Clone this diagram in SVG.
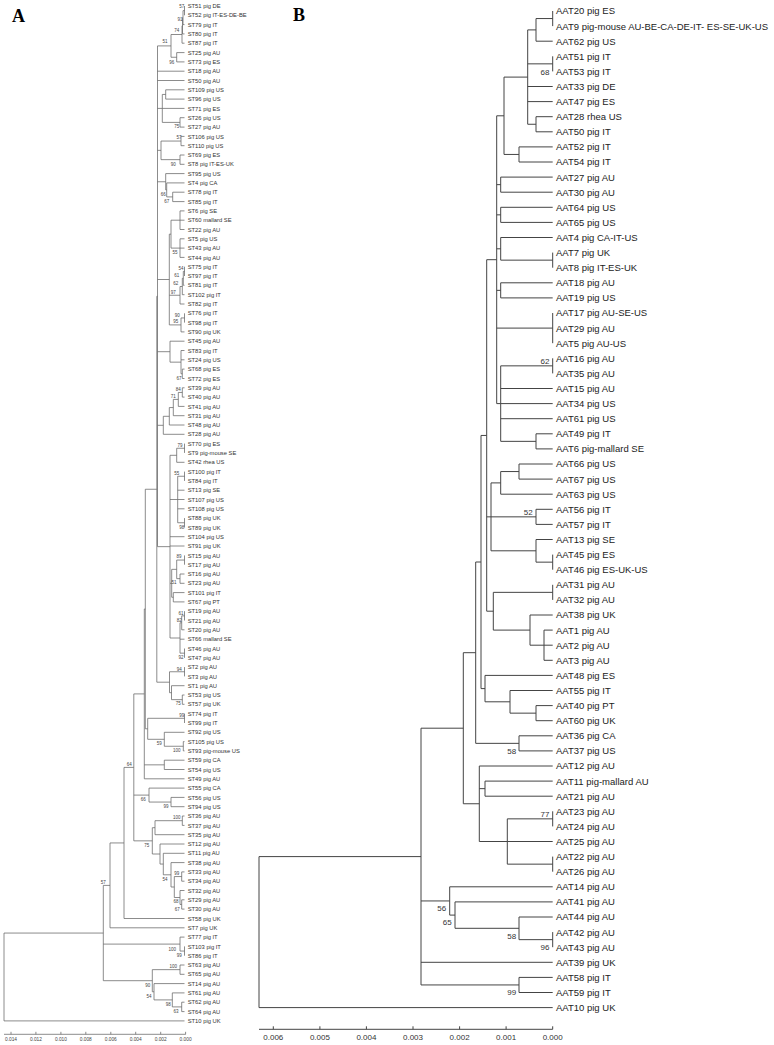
<svg xmlns="http://www.w3.org/2000/svg" width="774" height="1045" viewBox="0 0 774 1045">
<style>
.ea{fill:none;stroke:#666;stroke-width:0.75}
.eb{fill:none;stroke:#444;stroke-width:1}
.ta{font-family:"Liberation Sans",Arial,sans-serif;font-size:5.8px;fill:#333}
.tb{font-family:"Liberation Sans",Arial,sans-serif;font-size:9.5px;fill:#222}
.ba{font-family:"Liberation Sans",Arial,sans-serif;font-size:4.5px;fill:#444;text-anchor:middle}
.bb{font-family:"Liberation Sans",Arial,sans-serif;font-size:8px;fill:#333;text-anchor:middle}
.xa{font-family:"Liberation Sans",Arial,sans-serif;font-size:4.8px;fill:#444;text-anchor:middle}
.xb{font-family:"Liberation Sans",Arial,sans-serif;font-size:8px;fill:#333;text-anchor:middle}
.pl{font-family:"Liberation Serif","Times New Roman",serif;font-size:18px;font-weight:bold;fill:#000}
</style>
<rect width="774" height="1045" fill="#fff"/>
<text class="pl" x="12" y="21.5">A</text>
<text class="pl" x="293" y="20.5">B</text>
<g id="connectors">
<path class="ea" d="M184.5 6V15.3 M183 10.65V24.6H184.5 M183 10.65H184.5 M182.5 17.6V33.9H184.5 M182.5 17.6H183 M182 25.75V43.2H184.5 M182 25.75H182.5 M176.7 52.6V61.9 M176.7 52.6H184.5 M176.7 61.9H184.5 M171 34.5V57.25H176.7 M171 34.5H182 M165.7 89.8V99.1H184.5 M165.7 89.8H184.5 M180 117.7V127.1H184.5 M180 117.7H184.5 M162.3 94.45V122.4H180 M162.3 94.45H165.7 M162.3 108.4H184.5 M181 136.4V145.7H184.5 M181 136.4H184.5 M180 155V164.3H184.5 M180 155H184.5 M161 141.05V159.65H180 M161 141.05H181 M172.7 192.2V201.6H184.5 M172.7 192.2H184.5 M166.7 182.9V196.9H172.7 M166.7 182.9H184.5 M165.7 173.6V189.9H166.7 M165.7 173.6H184.5 M180 210.9V229.5H184.5 M180 210.9H184.5 M180 220.2H184.5 M180 238.8V257.4H184.5 M180 238.8H184.5 M180 248.1H184.5 M171 220.2V248.1H180 M171 220.2H180 M184.5 266.7V276 M183.3 271.35V285.3H184.5 M183.3 271.35H184.5 M182.3 278.3V294.7H184.5 M182.3 278.3H183.3 M180 286.5V304H184.5 M180 286.5H182.3 M184.5 313.3V322.6 M181 317.95V331.9H184.5 M181 317.95H184.5 M169.3 234.15V324.9H181 M169.3 234.15H171 M169.3 295.25H180 M182.3 369.1V378.5H184.5 M182.3 369.1H184.5 M181 350.5V373.8H182.3 M181 350.5H184.5 M181 359.8H184.5 M170 341.2V362.15H181 M170 341.2H184.5 M182.3 387.8V397.1H184.5 M182.3 387.8H184.5 M178.3 392.45V406.4H184.5 M178.3 392.45H182.3 M173.3 399.4V415.7H184.5 M173.3 399.4H178.3 M169.3 407.55V425H184.5 M169.3 407.55H173.3 M163.3 416.3V434.3H184.5 M163.3 416.3H169.3 M184.5 443.6V452.9 M176.7 448.25V462.3H184.5 M176.7 448.25H184.5 M184.5 471.6V480.9 M184.5 518.1V527.4 M177.7 476.25V522.75H184.5 M177.7 476.25H184.5 M177.7 490.2H184.5 M177.7 499.5H184.5 M177.7 508.8H184.5 M184.5 555.4V564.7 M180 574V583.3H184.5 M180 574H184.5 M176.7 560.05V578.65H180 M176.7 560.05H184.5 M173.3 592.6V601.9H184.5 M173.3 592.6H184.5 M171.7 569.35V597.25H173.3 M171.7 569.35H176.7 M184.5 611.2V620.5 M181.7 615.85V629.8H184.5 M181.7 615.85H184.5 M184.5 648.5V657.8 M180 622.8V653.15H184.5 M180 622.8H181.7 M180 639.2H184.5 M170 455.3V638H180 M170 455.3H176.7 M170 499.5H177.7 M170 536.7H184.5 M170 546H184.5 M170 583.3H171.7 M157.5 45.9V546.65H170 M157.5 45.9H171 M157.5 71.2H184.5 M157.5 80.5H184.5 M157.5 108.4H162.3 M157.5 150.35H161 M157.5 181.75H165.7 M157.5 279.5H169.3 M157.5 351.7H170 M157.5 425.3H163.3 M184.5 667.1V676.4 M182.3 695V704.3H184.5 M182.3 695H184.5 M171.5 685.7V699.65H182.3 M171.5 685.7H184.5 M169.5 671.75V692.7H171.5 M169.5 671.75H184.5 M156.8 296.3V682.2H169.5 M156.8 296.3H157.5 M184.5 713.6V723 M183.3 741.6V750.9H184.5 M183.3 741.6H184.5 M164.3 732.3V746.25H183.3 M164.3 732.3H184.5 M147.7 718.3V739.3H164.3 M147.7 718.3H184.5 M145.3 489.25V728.8H147.7 M145.3 489.25H156.8 M164.3 760.2V769.5H184.5 M164.3 760.2H184.5 M144.3 609V778.8H184.5 M144.3 609H145.3 M144.3 764.85H164.3 M171 797.4V806.7H184.5 M171 797.4H184.5 M149 788.1V802.05H171 M149 788.1H184.5 M182.3 816V825.4H184.5 M182.3 816H184.5 M155 820.7V834.7H184.5 M155 820.7H182.3 M181.7 871.9V881.2H184.5 M181.7 871.9H184.5 M181.7 899.8V909.1H184.5 M181.7 899.8H184.5 M180 890.5V904.45H181.7 M180 890.5H184.5 M174.3 876.55V897.5H180 M174.3 876.55H181.7 M171 862.6V887H174.3 M171 862.6H184.5 M163.3 853.3V874.8H171 M163.3 853.3H184.5 M160 844V864.05H163.3 M160 844H184.5 M152.3 827.7V854H160 M152.3 827.7H155 M133.8 693.9V840.85H152.3 M133.8 693.9H144.3 M133.8 795.1H149 M124 767.4V918.5H184.5 M124 767.4H133.8 M110 842.95V927.8H184.5 M110 842.95H124 M184.5 946.4V955.7 M180 937.1V951.05H184.5 M180 937.1H184.5 M180 965V974.3H184.5 M180 965H184.5 M181.7 1002.2V1011.6H184.5 M181.7 1002.2H184.5 M172.3 992.9V1006.9H181.7 M172.3 992.9H184.5 M154 983.6V999.9H172.3 M154 983.6H184.5 M152.3 969.65V991.75H154 M152.3 969.65H180 M103.3 885.4V980.7H152.3 M103.3 885.4H110 M103.3 944.1H180 M4 933.05V1020.9H184.5 M4 933.05H103.3"/>
<path class="eb" d="M552.7 11V26.1 M536 18.55V41.2H552.7 M536 18.55H552.7 M552.7 56.3V71.4 M536 116.7V131.8H552.7 M536 116.7H552.7 M527.7 29.9V124.25H536 M527.7 29.9H536 M527.7 63.85H552.7 M527.7 86.5H552.7 M527.7 101.6H552.7 M519 146.9V162H552.7 M519 146.9H552.7 M504 77.1V154.45H519 M504 77.1H527.7 M500.7 177.1V192.2H552.7 M500.7 177.1H552.7 M500.7 207.3V222.4H552.7 M500.7 207.3H552.7 M552.7 252.6V267.7 M500.7 237.5V260.15H552.7 M500.7 237.5H552.7 M500.7 282.8V297.9H552.7 M500.7 282.8H552.7 M552.7 313V343.2 M552.7 358.3V373.4 M536 433.8V448.9H552.7 M536 433.8H552.7 M500.7 365.85V441.35H536 M500.7 365.85H552.7 M500.7 388.5H552.7 M500.7 403.6H552.7 M500.7 418.7H552.7 M496.7 115.8V403.6H500.7 M496.7 115.8H504 M496.7 184.65H500.7 M496.7 214.85H500.7 M496.7 248.8H500.7 M496.7 290.35H500.7 M496.7 328.1H552.7 M519 464V479.1H552.7 M519 464H552.7 M500.7 471.55V494.2H552.7 M500.7 471.55H519 M536 509.3V524.4H552.7 M536 509.3H552.7 M552.7 554.6V569.7 M536 539.5V562.15H552.7 M536 539.5H552.7 M491 482.9V550.8H536 M491 482.9H500.7 M552.7 584.8V599.9 M544 630.1V660.3H552.7 M544 630.1H552.7 M544 645.2H552.7 M530 615V645.2H544 M530 615H552.7 M493.3 592.35V630.1H530 M493.3 592.35H552.7 M486.7 259.7V611.2H493.3 M486.7 259.7H496.7 M486.7 516.85H536 M536 705.6V720.7H552.7 M536 705.6H552.7 M510 690.5V713.15H536 M510 690.5H552.7 M485 675.4V701.8H510 M485 675.4H552.7 M481 435.45V688.6H485 M481 435.45H486.7 M519 735.8V750.9H552.7 M519 735.8H552.7 M475.7 562V743.35H519 M475.7 562H481 M485 781.1V796.2H552.7 M485 781.1H552.7 M552.7 811.3V826.4 M552.7 856.6V871.7 M507.3 818.85V864.15H552.7 M507.3 818.85H552.7 M507.3 841.5H552.7 M479.3 766V841.5H507.3 M479.3 766H552.7 M479.3 788.65H485 M463.3 652.7V803.75H479.3 M463.3 652.7H475.7 M552.7 932.1V947.2 M519 917V939.65H552.7 M519 917H552.7 M455 901.9V928.3H519 M455 901.9H552.7 M449.7 886.8V915.1H455 M449.7 886.8H552.7 M519 977.4V992.5H552.7 M519 977.4H552.7 M421 728.2V984.95H519 M421 728.2H463.3 M421 900.95H449.7 M421 962.3H552.7 M259 856.6V1007.6H552.7 M259 856.6H421"/>
</g>
<g id="scale-a">
<path class="ea" d="M4 1034.3H185.7 M11 1031.8V1034.3 M35.9 1031.8V1034.3 M60.9 1031.8V1034.3 M85.8 1031.8V1034.3 M110.8 1031.8V1034.3 M135.7 1031.8V1034.3 M160.7 1031.8V1034.3 M185.6 1031.8V1034.3"/>
<text class="xa" x="11" y="1040.5">0.014</text><text class="xa" x="35.9" y="1040.5">0.012</text><text class="xa" x="60.9" y="1040.5">0.010</text><text class="xa" x="85.8" y="1040.5">0.008</text><text class="xa" x="110.8" y="1040.5">0.006</text><text class="xa" x="135.7" y="1040.5">0.004</text><text class="xa" x="160.7" y="1040.5">0.002</text><text class="xa" x="185.6" y="1040.5">0.000</text>
</g>
<g id="scale-b">
<path class="eb" d="M259 1029.3H552.7 M273.3 1026.3V1029.3 M319.9 1026.3V1029.3 M366.4 1026.3V1029.3 M413 1026.3V1029.3 M459.6 1026.3V1029.3 M506.1 1026.3V1029.3 M552.7 1026.3V1029.3"/>
<text class="xb" x="273.3" y="1039.7">0.006</text><text class="xb" x="319.9" y="1039.7">0.005</text><text class="xb" x="366.4" y="1039.7">0.004</text><text class="xb" x="413" y="1039.7">0.003</text><text class="xb" x="459.6" y="1039.7">0.002</text><text class="xb" x="506.1" y="1039.7">0.001</text><text class="xb" x="552.7" y="1039.7">0.000</text>
</g>
<g id="bootstrap-a" class="ba">
<text x="181.7" y="7.6">57</text><text x="180" y="20.6">91</text><text x="176.7" y="31.6">74</text><text x="165" y="43.3">51</text><text x="171.7" y="63.6">96</text><text x="176.7" y="128.3">75</text><text x="179" y="138.9">57</text><text x="173.3" y="165.6">90</text><text x="163.3" y="195.6">66</text><text x="166.7" y="202.6">67</text><text x="175" y="254.3">55</text><text x="181" y="269.9">54</text><text x="176.7" y="277.3">61</text><text x="175.7" y="285.3">62</text><text x="173.3" y="293.6">97</text><text x="177.3" y="316.6">90</text><text x="175.7" y="323.3">95</text><text x="179" y="379.6">67</text><text x="178.3" y="390.9">84</text><text x="173.3" y="398.3">71</text><text x="180" y="447.3">79</text><text x="176.7" y="474.9">55</text><text x="181.7" y="529.1">98</text><text x="179" y="558.3">89</text><text x="174" y="583.9">51</text><text x="181" y="614.9">61</text><text x="179.3" y="621.6">82</text><text x="181" y="658.9">92</text><text x="179.3" y="670.6">94</text><text x="178.3" y="705.3">75</text><text x="181.7" y="716.9">99</text><text x="159.3" y="744.9">59</text><text x="176.7" y="752.3">100</text><text x="129.3" y="765.9">64</text><text x="143.3" y="800.9">66</text><text x="166" y="808.3">99</text><text x="176.7" y="818.9">100</text><text x="146.7" y="846.6">75</text><text x="176.7" y="874.9">99</text><text x="165" y="880.6">54</text><text x="176" y="903.3">68</text><text x="177.3" y="910.6">67</text><text x="103.3" y="883.9">57</text><text x="172.3" y="950.6">100</text><text x="179.3" y="957.3">99</text><text x="173.3" y="968.3">100</text><text x="147.7" y="986.6">90</text><text x="149" y="997.6">54</text><text x="168.3" y="1005.9">98</text><text x="176" y="1013.3">63</text>
</g>
<g id="bootstrap-b" class="bb">
<text x="545" y="74.6">68</text><text x="545" y="363.9">62</text><text x="528.3" y="514.6">52</text><text x="511.7" y="753.6">58</text><text x="545" y="816.9">77</text><text x="441.7" y="910.6">56</text><text x="447.3" y="924.9">65</text><text x="511.7" y="938.6">58</text><text x="545" y="949.9">96</text><text x="511.7" y="994.9">99</text>
</g>
<g id="leaves-a" class="ta">
<g id="a-ST51"><text x="187.7" y="8.1">ST51 pig DE</text></g>
<g id="a-ST52"><text x="187.7" y="17.4">ST52 pig IT-ES-DE-BE</text></g>
<g id="a-ST79"><text x="187.7" y="26.7">ST79 pig IT</text></g>
<g id="a-ST80"><text x="187.7" y="36">ST80 pig IT</text></g>
<g id="a-ST87"><text x="187.7" y="45.3">ST87 pig IT</text></g>
<g id="a-ST25"><text x="187.7" y="54.7">ST25 pig AU</text></g>
<g id="a-ST73"><text x="187.7" y="64">ST73 pig ES</text></g>
<g id="a-ST18"><text x="187.7" y="73.3">ST18 pig AU</text></g>
<g id="a-ST50"><text x="187.7" y="82.6">ST50 pig AU</text></g>
<g id="a-ST109"><text x="187.7" y="91.9">ST109 pig US</text></g>
<g id="a-ST96"><text x="187.7" y="101.2">ST96 pig US</text></g>
<g id="a-ST71"><text x="187.7" y="110.5">ST71 pig ES</text></g>
<g id="a-ST26"><text x="187.7" y="119.8">ST26 pig US</text></g>
<g id="a-ST27"><text x="187.7" y="129.2">ST27 pig AU</text></g>
<g id="a-ST106"><text x="187.7" y="138.5">ST106 pig US</text></g>
<g id="a-ST110"><text x="187.7" y="147.8">ST110 pig US</text></g>
<g id="a-ST69"><text x="187.7" y="157.1">ST69 pig ES</text></g>
<g id="a-ST8"><text x="187.7" y="166.4">ST8 pig IT-ES-UK</text></g>
<g id="a-ST95"><text x="187.7" y="175.7">ST95 pig US</text></g>
<g id="a-ST4"><text x="187.7" y="185">ST4 pig CA</text></g>
<g id="a-ST78"><text x="187.7" y="194.3">ST78 pig IT</text></g>
<g id="a-ST85"><text x="187.7" y="203.7">ST85 pig IT</text></g>
<g id="a-ST6"><text x="187.7" y="213">ST6 pig SE</text></g>
<g id="a-ST60"><text x="187.7" y="222.3">ST60 mallard SE</text></g>
<g id="a-ST22"><text x="187.7" y="231.6">ST22 pig AU</text></g>
<g id="a-ST5"><text x="187.7" y="240.9">ST5 pig US</text></g>
<g id="a-ST43"><text x="187.7" y="250.2">ST43 pig AU</text></g>
<g id="a-ST44"><text x="187.7" y="259.5">ST44 pig AU</text></g>
<g id="a-ST75"><text x="187.7" y="268.8">ST75 pig IT</text></g>
<g id="a-ST97"><text x="187.7" y="278.1">ST97 pig IT</text></g>
<g id="a-ST81"><text x="187.7" y="287.4">ST81 pig IT</text></g>
<g id="a-ST102"><text x="187.7" y="296.8">ST102 pig IT</text></g>
<g id="a-ST82"><text x="187.7" y="306.1">ST82 pig IT</text></g>
<g id="a-ST76"><text x="187.7" y="315.4">ST76 pig IT</text></g>
<g id="a-ST98"><text x="187.7" y="324.7">ST98 pig IT</text></g>
<g id="a-ST90"><text x="187.7" y="334">ST90 pig UK</text></g>
<g id="a-ST45"><text x="187.7" y="343.3">ST45 pig AU</text></g>
<g id="a-ST83"><text x="187.7" y="352.6">ST83 pig IT</text></g>
<g id="a-ST24"><text x="187.7" y="361.9">ST24 pig US</text></g>
<g id="a-ST68"><text x="187.7" y="371.2">ST68 pig ES</text></g>
<g id="a-ST72"><text x="187.7" y="380.6">ST72 pig ES</text></g>
<g id="a-ST39"><text x="187.7" y="389.9">ST39 pig AU</text></g>
<g id="a-ST40"><text x="187.7" y="399.2">ST40 pig AU</text></g>
<g id="a-ST41"><text x="187.7" y="408.5">ST41 pig AU</text></g>
<g id="a-ST31"><text x="187.7" y="417.8">ST31 pig AU</text></g>
<g id="a-ST48"><text x="187.7" y="427.1">ST48 pig AU</text></g>
<g id="a-ST28"><text x="187.7" y="436.4">ST28 pig AU</text></g>
<g id="a-ST70"><text x="187.7" y="445.7">ST70 pig ES</text></g>
<g id="a-ST9"><text x="187.7" y="455">ST9 pig-mouse SE</text></g>
<g id="a-ST42"><text x="187.7" y="464.4">ST42 rhea US</text></g>
<g id="a-ST100"><text x="187.7" y="473.7">ST100 pig IT</text></g>
<g id="a-ST84"><text x="187.7" y="483">ST84 pig IT</text></g>
<g id="a-ST13"><text x="187.7" y="492.3">ST13 pig SE</text></g>
<g id="a-ST107"><text x="187.7" y="501.6">ST107 pig US</text></g>
<g id="a-ST108"><text x="187.7" y="510.9">ST108 pig US</text></g>
<g id="a-ST88"><text x="187.7" y="520.2">ST88 pig UK</text></g>
<g id="a-ST89"><text x="187.7" y="529.5">ST89 pig UK</text></g>
<g id="a-ST104"><text x="187.7" y="538.8">ST104 pig US</text></g>
<g id="a-ST91"><text x="187.7" y="548.1">ST91 pig UK</text></g>
<g id="a-ST15"><text x="187.7" y="557.5">ST15 pig AU</text></g>
<g id="a-ST17"><text x="187.7" y="566.8">ST17 pig AU</text></g>
<g id="a-ST16"><text x="187.7" y="576.1">ST16 pig AU</text></g>
<g id="a-ST23"><text x="187.7" y="585.4">ST23 pig AU</text></g>
<g id="a-ST101"><text x="187.7" y="594.7">ST101 pig IT</text></g>
<g id="a-ST67"><text x="187.7" y="604">ST67 pig PT</text></g>
<g id="a-ST19"><text x="187.7" y="613.3">ST19 pig AU</text></g>
<g id="a-ST21"><text x="187.7" y="622.6">ST21 pig AU</text></g>
<g id="a-ST20"><text x="187.7" y="631.9">ST20 pig AU</text></g>
<g id="a-ST66"><text x="187.7" y="641.3">ST66 mallard SE</text></g>
<g id="a-ST46"><text x="187.7" y="650.6">ST46 pig AU</text></g>
<g id="a-ST47"><text x="187.7" y="659.9">ST47 pig AU</text></g>
<g id="a-ST2"><text x="187.7" y="669.2">ST2 pig AU</text></g>
<g id="a-ST3"><text x="187.7" y="678.5">ST3 pig AU</text></g>
<g id="a-ST1"><text x="187.7" y="687.8">ST1 pig AU</text></g>
<g id="a-ST53"><text x="187.7" y="697.1">ST53 pig US</text></g>
<g id="a-ST57"><text x="187.7" y="706.4">ST57 pig UK</text></g>
<g id="a-ST74"><text x="187.7" y="715.7">ST74 pig IT</text></g>
<g id="a-ST99"><text x="187.7" y="725.1">ST99 pig IT</text></g>
<g id="a-ST92"><text x="187.7" y="734.4">ST92 pig US</text></g>
<g id="a-ST105"><text x="187.7" y="743.7">ST105 pig US</text></g>
<g id="a-ST93"><text x="187.7" y="753">ST93 pig-mouse US</text></g>
<g id="a-ST59"><text x="187.7" y="762.3">ST59 pig CA</text></g>
<g id="a-ST54"><text x="187.7" y="771.6">ST54 pig US</text></g>
<g id="a-ST49"><text x="187.7" y="780.9">ST49 pig AU</text></g>
<g id="a-ST55"><text x="187.7" y="790.2">ST55 pig CA</text></g>
<g id="a-ST56"><text x="187.7" y="799.5">ST56 pig US</text></g>
<g id="a-ST94"><text x="187.7" y="808.8">ST94 pig US</text></g>
<g id="a-ST36"><text x="187.7" y="818.1">ST36 pig AU</text></g>
<g id="a-ST37"><text x="187.7" y="827.5">ST37 pig AU</text></g>
<g id="a-ST35"><text x="187.7" y="836.8">ST35 pig AU</text></g>
<g id="a-ST12"><text x="187.7" y="846.1">ST12 pig AU</text></g>
<g id="a-ST11"><text x="187.7" y="855.4">ST11 pig AU</text></g>
<g id="a-ST38"><text x="187.7" y="864.7">ST38 pig AU</text></g>
<g id="a-ST33"><text x="187.7" y="874">ST33 pig AU</text></g>
<g id="a-ST34"><text x="187.7" y="883.3">ST34 pig AU</text></g>
<g id="a-ST32"><text x="187.7" y="892.6">ST32 pig AU</text></g>
<g id="a-ST29"><text x="187.7" y="901.9">ST29 pig AU</text></g>
<g id="a-ST30"><text x="187.7" y="911.2">ST30 pig AU</text></g>
<g id="a-ST58"><text x="187.7" y="920.6">ST58 pig UK</text></g>
<g id="a-ST7"><text x="187.7" y="929.9">ST7 pig UK</text></g>
<g id="a-ST77"><text x="187.7" y="939.2">ST77 pig IT</text></g>
<g id="a-ST103"><text x="187.7" y="948.5">ST103 pig IT</text></g>
<g id="a-ST86"><text x="187.7" y="957.8">ST86 pig IT</text></g>
<g id="a-ST63"><text x="187.7" y="967.1">ST63 pig AU</text></g>
<g id="a-ST65"><text x="187.7" y="976.4">ST65 pig AU</text></g>
<g id="a-ST14"><text x="187.7" y="985.7">ST14 pig AU</text></g>
<g id="a-ST61"><text x="187.7" y="995">ST61 pig AU</text></g>
<g id="a-ST62"><text x="187.7" y="1004.3">ST62 pig AU</text></g>
<g id="a-ST64"><text x="187.7" y="1013.7">ST64 pig AU</text></g>
<g id="a-ST10"><text x="187.7" y="1023">ST10 pig UK</text></g>
</g>
<g id="leaves-b" class="tb">
<g id="b-AAT20"><text x="556" y="14.4">AAT20 pig ES</text></g>
<g id="b-AAT9"><text x="556" y="29.5">AAT9 pig-mouse AU-BE-CA-DE-IT- ES-SE-UK-US</text></g>
<g id="b-AAT62"><text x="556" y="44.6">AAT62 pig US</text></g>
<g id="b-AAT51"><text x="556" y="59.7">AAT51 pig IT</text></g>
<g id="b-AAT53"><text x="556" y="74.8">AAT53 pig IT</text></g>
<g id="b-AAT33"><text x="556" y="89.9">AAT33 pig DE</text></g>
<g id="b-AAT47"><text x="556" y="105">AAT47 pig ES</text></g>
<g id="b-AAT28"><text x="556" y="120.1">AAT28 rhea US</text></g>
<g id="b-AAT50"><text x="556" y="135.2">AAT50 pig IT</text></g>
<g id="b-AAT52"><text x="556" y="150.3">AAT52 pig IT</text></g>
<g id="b-AAT54"><text x="556" y="165.4">AAT54 pig IT</text></g>
<g id="b-AAT27"><text x="556" y="180.5">AAT27 pig AU</text></g>
<g id="b-AAT30"><text x="556" y="195.6">AAT30 pig AU</text></g>
<g id="b-AAT64"><text x="556" y="210.7">AAT64 pig US</text></g>
<g id="b-AAT65"><text x="556" y="225.8">AAT65 pig US</text></g>
<g id="b-AAT4"><text x="556" y="240.9">AAT4 pig CA-IT-US</text></g>
<g id="b-AAT7"><text x="556" y="256">AAT7 pig UK</text></g>
<g id="b-AAT8"><text x="556" y="271.1">AAT8 pig IT-ES-UK</text></g>
<g id="b-AAT18"><text x="556" y="286.2">AAT18 pig AU</text></g>
<g id="b-AAT19"><text x="556" y="301.3">AAT19 pig US</text></g>
<g id="b-AAT17"><text x="556" y="316.4">AAT17 pig AU-SE-US</text></g>
<g id="b-AAT29"><text x="556" y="331.5">AAT29 pig AU</text></g>
<g id="b-AAT5"><text x="556" y="346.6">AAT5 pig AU-US</text></g>
<g id="b-AAT16"><text x="556" y="361.7">AAT16 pig AU</text></g>
<g id="b-AAT35"><text x="556" y="376.8">AAT35 pig AU</text></g>
<g id="b-AAT15"><text x="556" y="391.9">AAT15 pig AU</text></g>
<g id="b-AAT34"><text x="556" y="407">AAT34 pig US</text></g>
<g id="b-AAT61"><text x="556" y="422.1">AAT61 pig US</text></g>
<g id="b-AAT49"><text x="556" y="437.2">AAT49 pig IT</text></g>
<g id="b-AAT6"><text x="556" y="452.3">AAT6 pig-mallard SE</text></g>
<g id="b-AAT66"><text x="556" y="467.4">AAT66 pig US</text></g>
<g id="b-AAT67"><text x="556" y="482.5">AAT67 pig US</text></g>
<g id="b-AAT63"><text x="556" y="497.6">AAT63 pig US</text></g>
<g id="b-AAT56"><text x="556" y="512.7">AAT56 pig IT</text></g>
<g id="b-AAT57"><text x="556" y="527.8">AAT57 pig IT</text></g>
<g id="b-AAT13"><text x="556" y="542.9">AAT13 pig SE</text></g>
<g id="b-AAT45"><text x="556" y="558">AAT45 pig ES</text></g>
<g id="b-AAT46"><text x="556" y="573.1">AAT46 pig ES-UK-US</text></g>
<g id="b-AAT31"><text x="556" y="588.2">AAT31 pig AU</text></g>
<g id="b-AAT32"><text x="556" y="603.3">AAT32 pig AU</text></g>
<g id="b-AAT38"><text x="556" y="618.4">AAT38 pig UK</text></g>
<g id="b-AAT1"><text x="556" y="633.5">AAT1 pig AU</text></g>
<g id="b-AAT2"><text x="556" y="648.6">AAT2 pig AU</text></g>
<g id="b-AAT3"><text x="556" y="663.7">AAT3 pig AU</text></g>
<g id="b-AAT48"><text x="556" y="678.8">AAT48 pig ES</text></g>
<g id="b-AAT55"><text x="556" y="693.9">AAT55 pig IT</text></g>
<g id="b-AAT40"><text x="556" y="709">AAT40 pig PT</text></g>
<g id="b-AAT60"><text x="556" y="724.1">AAT60 pig UK</text></g>
<g id="b-AAT36"><text x="556" y="739.2">AAT36 pig CA</text></g>
<g id="b-AAT37"><text x="556" y="754.3">AAT37 pig US</text></g>
<g id="b-AAT12"><text x="556" y="769.4">AAT12 pig AU</text></g>
<g id="b-AAT11"><text x="556" y="784.5">AAT11 pig-mallard AU</text></g>
<g id="b-AAT21"><text x="556" y="799.6">AAT21 pig AU</text></g>
<g id="b-AAT23"><text x="556" y="814.7">AAT23 pig AU</text></g>
<g id="b-AAT24"><text x="556" y="829.8">AAT24 pig AU</text></g>
<g id="b-AAT25"><text x="556" y="844.9">AAT25 pig AU</text></g>
<g id="b-AAT22"><text x="556" y="860">AAT22 pig AU</text></g>
<g id="b-AAT26"><text x="556" y="875.1">AAT26 pig AU</text></g>
<g id="b-AAT14"><text x="556" y="890.2">AAT14 pig AU</text></g>
<g id="b-AAT41"><text x="556" y="905.3">AAT41 pig AU</text></g>
<g id="b-AAT44"><text x="556" y="920.4">AAT44 pig AU</text></g>
<g id="b-AAT42"><text x="556" y="935.5">AAT42 pig AU</text></g>
<g id="b-AAT43"><text x="556" y="950.6">AAT43 pig AU</text></g>
<g id="b-AAT39"><text x="556" y="965.7">AAT39 pig UK</text></g>
<g id="b-AAT58"><text x="556" y="980.8">AAT58 pig IT</text></g>
<g id="b-AAT59"><text x="556" y="995.9">AAT59 pig IT</text></g>
<g id="b-AAT10"><text x="556" y="1011">AAT10 pig UK</text></g>
</g>
</svg>
